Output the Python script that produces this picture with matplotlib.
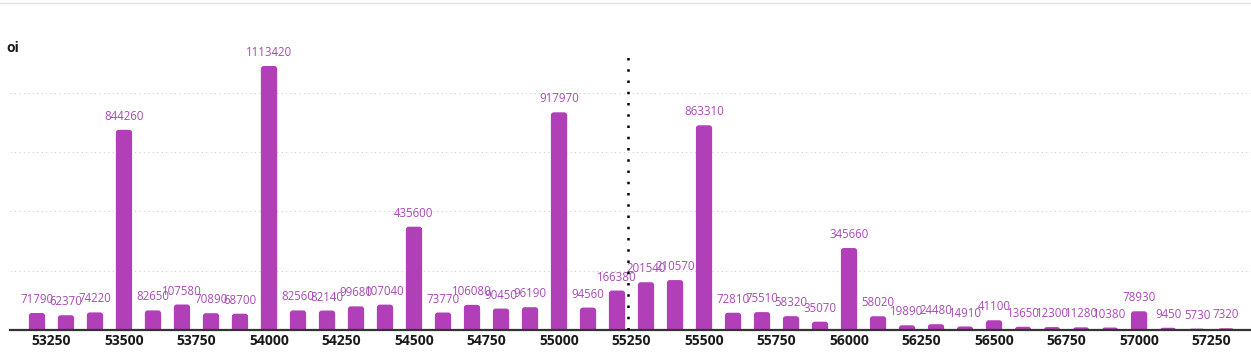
import matplotlib.pyplot as plt
from matplotlib.patches import FancyBboxPatch
from matplotlib.lines import Line2D

# strike prices and open interest
strikes = [53200, 53300, 53400, 53500, 53600, 53700, 53800, 53900, 54000, 54100,
           54200, 54300, 54400, 54500, 54600, 54700, 54800, 54900, 55000, 55100,
           55200, 55300, 55400, 55500, 55600, 55700, 55800, 55900, 56000, 56100,
           56200, 56300, 56400, 56500, 56600, 56700, 56800, 56900, 57000, 57100,
           57200, 57300]
oi = [71790, 62370, 74220, 844260, 82650, 107580, 70890, 68700, 1113420, 82560,
      82140, 99680, 107040, 435600, 73770, 106080, 90450, 96190, 917970, 94560,
      166380, 201540, 210570, 863310, 72810, 75510, 58320, 35070, 345660, 58020,
      19890, 24480, 14910, 41100, 13650, 12300, 11280, 10380, 78930, 9450,
      5730, 7320]
xticks = [53250, 53500, 53750, 54000, 54250, 54500, 54750, 55000, 55250,
          55500, 55750, 56000, 56250, 56500, 56750, 57000, 57250]
spot = 55237

plt.rcParams['font.family'] = ['Open Sans', 'DejaVu Sans']

W, H = 1251, 353
fig = plt.figure(figsize=(W / 100, H / 100), dpi=100)
ax = fig.add_axes([10 / W, (H - 330) / H, (W - 10) / W, 290 / H])

bar_color = '#b03fb8'
x0, x1 = 53107, 57386
px_per_x = (W - 10) / (x1 - x0)
ymax = 290 * 4217
ax.set_xlim(x0, x1)
ax.set_ylim(0, ymax)
aspect = (ymax / 290) / (1 / px_per_x)

bw = 56
r = 10
for s, v in zip(strikes, oi):
    p = FancyBboxPatch((s - bw / 2 + r, -r * aspect), bw - 2 * r, v,
                       boxstyle=f'round,pad={r},rounding_size={r}',
                       mutation_aspect=aspect, facecolor=bar_color,
                       edgecolor='none', zorder=2)
    ax.add_patch(p)
    ax.annotate(str(v), (s, v), xytext=(0, 5), textcoords='offset points',
                ha='center', va='bottom', fontsize=8.3, color='#a64bb2', zorder=3)

# gridlines
for g in [250000, 500000, 750000, 1000000]:
    ax.axhline(g, color='#cfcfcf', linestyle=(0, (1, 3)), linewidth=0.8, zorder=1)

ax.axvline(spot, ymin=0, ymax=280 / 290, color='black', linestyle=(0, (1, 3.5)),
           linewidth=1.8, zorder=4)

for sp in ['top', 'right', 'left']:
    ax.spines[sp].set_visible(False)
ax.spines['bottom'].set_color('#333333')
ax.spines['bottom'].set_linewidth(1.6)
ax.set_yticks([])
ax.set_xticks(xticks)
ax.set_xticklabels([str(t) for t in xticks], fontsize=10, fontweight='bold',
                   color='#1a1a1a')
ax.tick_params(axis='x', length=0, pad=3)

fig.text(6 / W, 1 - 48 / H, 'oi', fontsize=10, fontweight='bold', va='center',
         color='#1a1a1a')
fig.add_artist(Line2D([0, 1], [1 - 3 / H, 1 - 3 / H], color='#e2e2e2',
                      linewidth=1, transform=fig.transFigure))

fig.savefig('out.png', dpi=100)
